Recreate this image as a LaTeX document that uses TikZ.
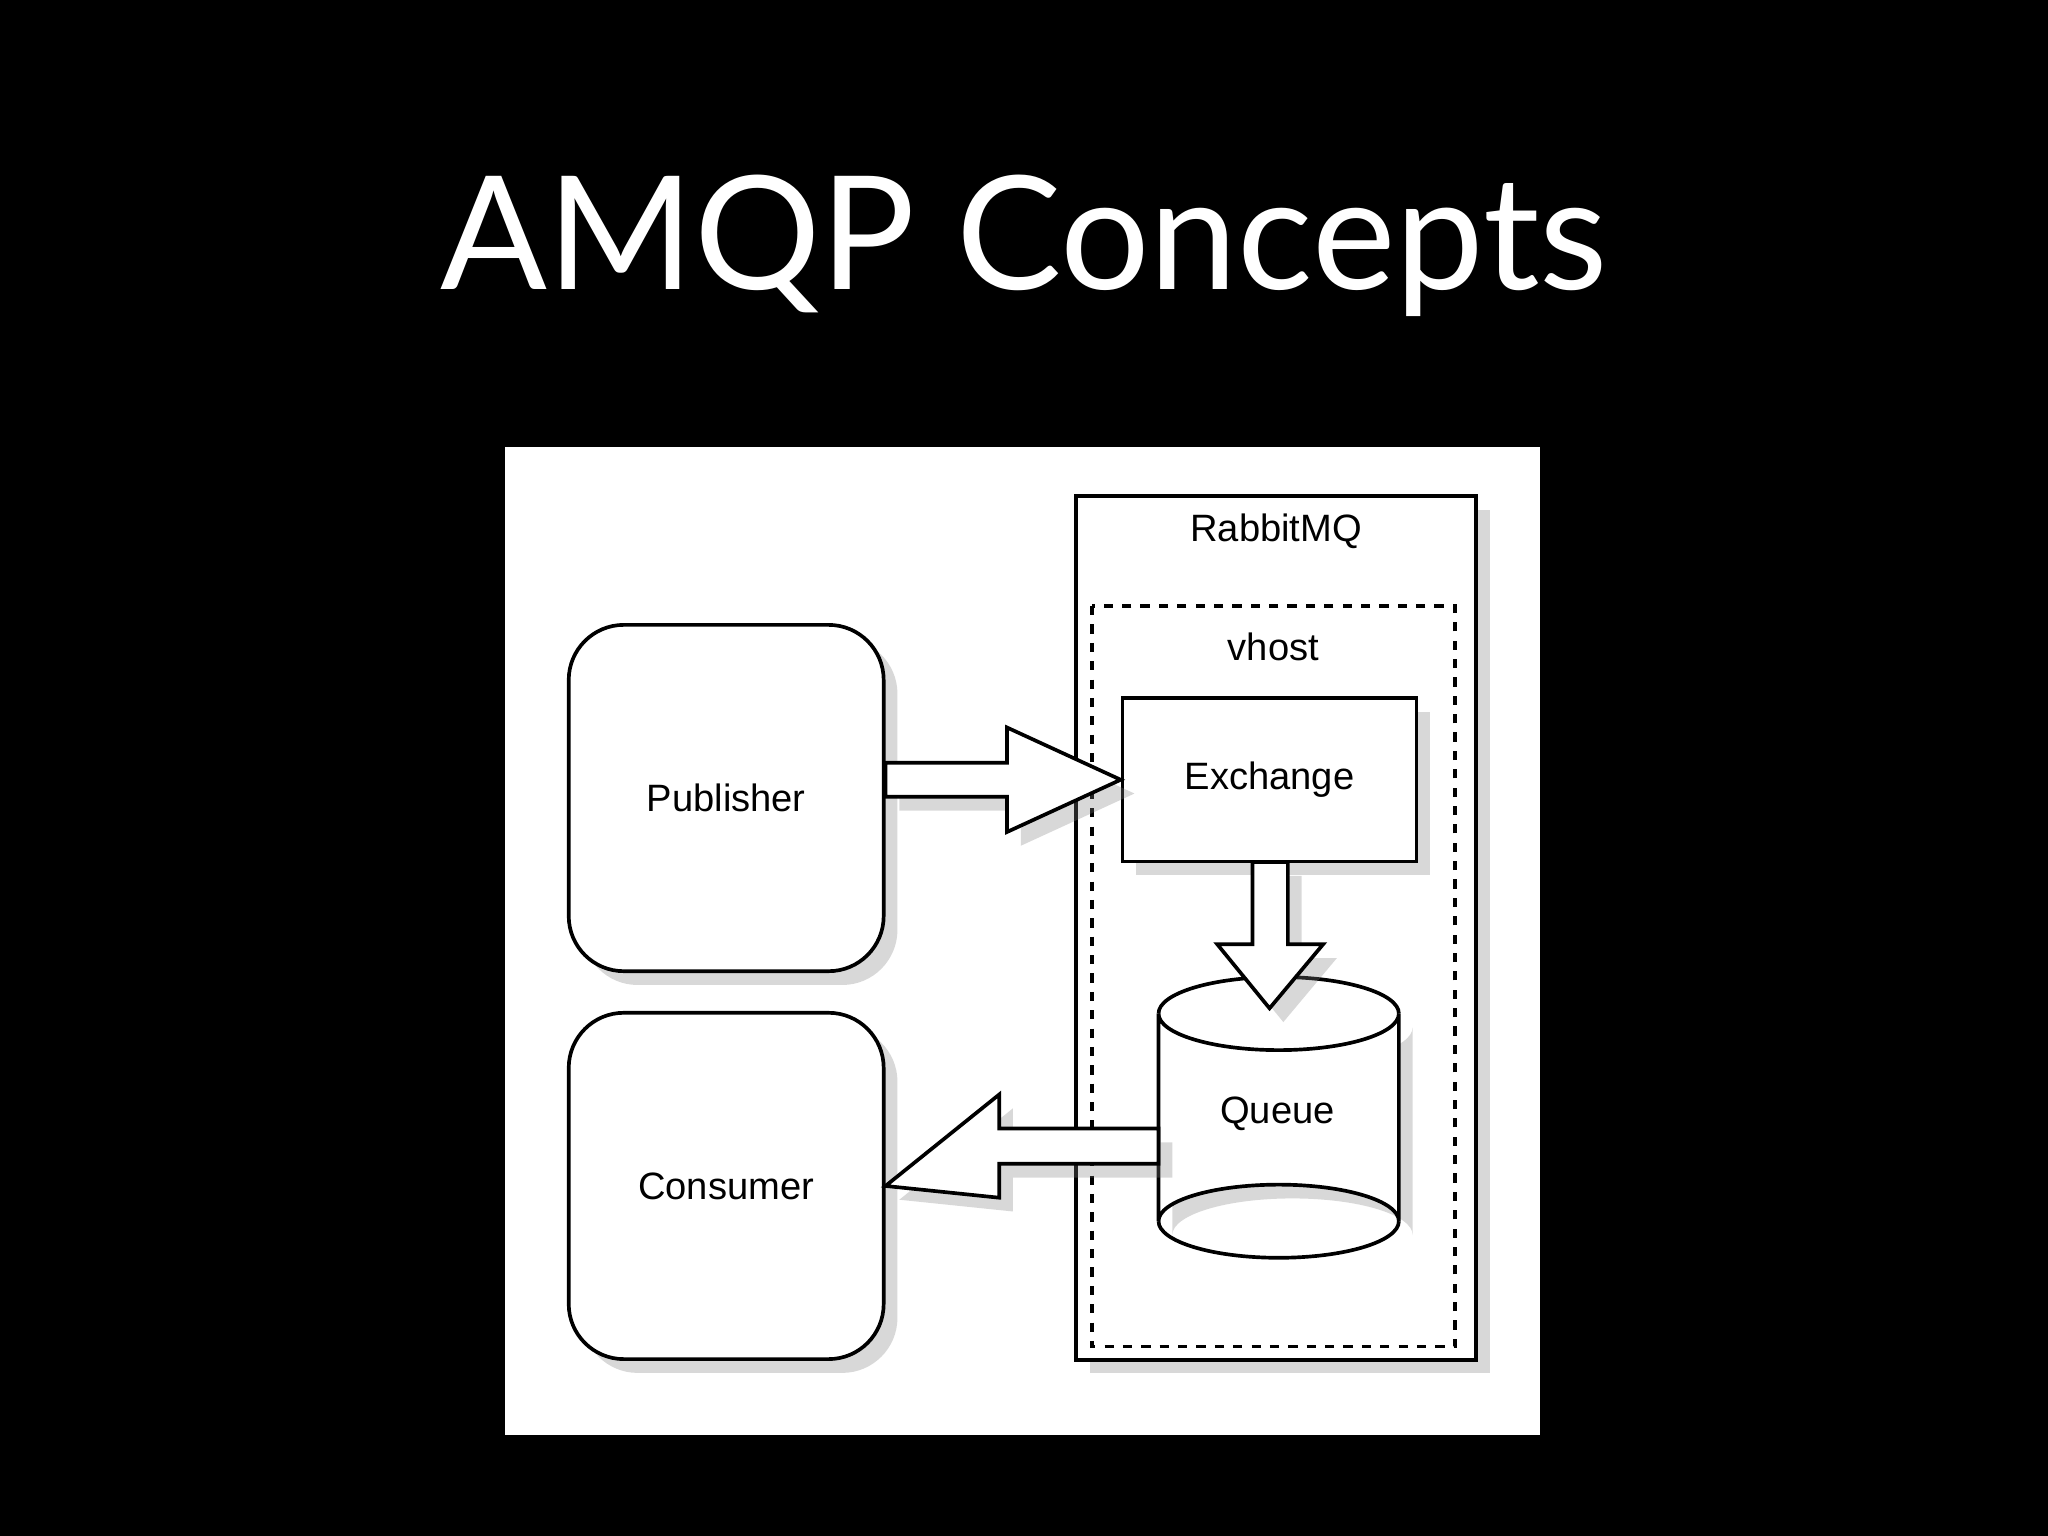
\documentclass[tikz,border=0pt]{standalone}
\usepackage{fontspec}
\setmainfont{Liberation Sans}
\newfontfamily\titlefont{Lato}
\usetikzlibrary{shadows,calc}
\tikzset{
  box/.style={draw,thick,fill=white,drop shadow={opacity=.3,shadow xshift=3pt,shadow yshift=-3pt}},
  lbl/.style={font=\fontsize{8.3}{10}\selectfont},
  fat/.style={draw,thick,fill=white,drop shadow={opacity=.3,shadow xshift=3pt,shadow yshift=-3pt}}
}
\begin{document}
\begin{tikzpicture}[x=0.01cm,y=-0.01cm]
	\fill[black] (0,0) rectangle (1568,1176);
	\node[white,font=\titlefont\fontsize{34.4}{38}\selectfont] (title) at (784,188) {AMQP Concepts};
	\fill[white] (387,342) rectangle (1179,1099);

	% broker
	\draw[box] (824,380) rectangle (1130,1041);
	\node[lbl] (rabbit) at (977,407) {RabbitMQ};
	\draw[thick,dash pattern=on 2pt off 2pt] (836,464) rectangle (1114,1031);
	\node[lbl] (vhost) at (975,495) {vhost};

	\node[box,rounded corners=12pt,minimum width=2.41cm,minimum height=2.65cm,lbl] (pub) at (556,611) {Publisher};
	\node[box,rounded corners=12pt,minimum width=2.41cm,minimum height=2.65cm,lbl] (con) at (556,908) {Consumer};
	\node[box,minimum width=2.25cm,minimum height=1.25cm,lbl] (ex) at (972,597) {Exchange};

	% queue
	\coordinate (q) at (979,776);
	\draw[box] (887,776) -- (887,935) arc[start angle=180,end angle=360,x radius=92,y radius=28]
		-- (1071,776) arc[start angle=0,end angle=180,x radius=92,y radius=28] -- cycle;
	\draw[thick] (887,935) arc[start angle=180,end angle=0,x radius=92,y radius=28];
	\draw[thick] (887,776) arc[start angle=180,end angle=360,x radius=92,y radius=28];
	\node[lbl] (queue) at (978,853) {Queue};

	% arrows
	\draw[fat] (pub.east |- 0,584) -- (771,584) -- (771,557) -- (ex.west) -- (771,637) -- (771,610) -- (pub.east |- 0,610) -- cycle;
	\draw[fat] (959,660) -- (959,723) -- (932,723) -- (972,772) -- (1013,723) -- (986,723) -- (986,660) -- cycle;
	\draw[fat] (887,864) -- (765,864) -- (765,838) -- (con.east) -- (765,917) -- (765,891) -- (887,891) -- cycle;
\end{tikzpicture}
\end{document}
